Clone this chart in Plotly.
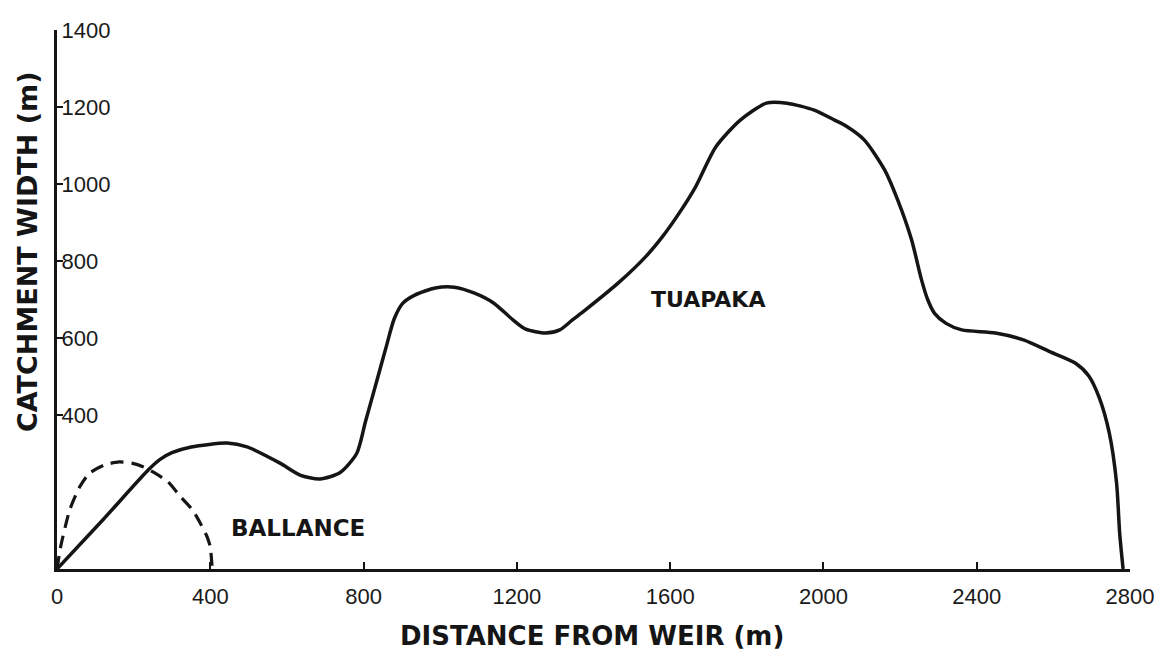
import plotly.graph_objects as go

# Tuapaka catchment width profile (distance from weir, m ; width, m)
tuapaka_x = [0, 120, 238, 268, 300, 350, 444, 496, 582, 634, 686, 738, 782, 805, 833, 859, 880,
             902, 935, 987, 1037, 1088, 1139, 1190, 1223, 1275, 1312, 1345, 1379, 1467, 1535,
             1579, 1624, 1666, 1719, 1783, 1851, 1905, 1976, 2029, 2060, 2107, 2160, 2194,
             2230, 2256, 2272, 2290, 2320, 2361, 2449, 2522, 2592, 2657, 2692, 2719, 2746, 2765,
             2773, 2782]
tuapaka_y = [0, 128, 257, 284, 302, 317, 327, 317, 275, 244, 234, 250, 300, 383, 483, 577, 650,
             690, 712, 730, 732, 717, 691, 647, 623, 613, 621, 647, 673, 745, 810,
             862, 925, 992, 1096, 1166, 1210, 1210, 1192, 1166, 1150, 1114, 1036, 958,
             855, 751, 700, 664, 638, 621, 613, 595, 564, 535, 502, 447, 353, 223,
             94, 0]

# Ballance catchment width profile
ballance_x = [0, 10, 33, 59, 85, 123, 162, 195, 226, 256, 290, 323, 354, 374, 392, 400, 405]
ballance_y = [0, 60, 153, 213, 249, 270, 278, 275, 265, 249, 226, 187, 153, 119, 83, 57, 0]

x_ticks = [0, 400, 800, 1200, 1600, 2000, 2400, 2800]
y_ticks = [400, 600, 800, 1000, 1200, 1400]

ink = "#151515"

fig = go.Figure()
fig.add_trace(go.Scatter(x=tuapaka_x, y=tuapaka_y, mode="lines",
                         line=dict(color=ink, width=3.5, shape="spline", smoothing=0.7),
                         showlegend=False, hoverinfo="skip"))
fig.add_trace(go.Scatter(x=ballance_x, y=ballance_y, mode="lines",
                         line=dict(color=ink, width=3.2, shape="spline", smoothing=0.6,
                                   dash="13px,8px"),
                         showlegend=False, hoverinfo="skip"))

fig.update_layout(
    width=1173, height=652,
    margin=dict(l=57, r=43, t=30, b=83),
    paper_bgcolor="white", plot_bgcolor="white",
    xaxis=dict(range=[0, 2800], showgrid=False, zeroline=False,
               showline=True, linecolor=ink, linewidth=2.5,
               ticks="inside", ticklen=7, tickwidth=1.5, tickcolor=ink,
               tickvals=x_ticks, ticktext=[str(v) for v in x_ticks],
               tickfont=dict(family="Liberation Sans", size=22, color="#1a1a1a"),
               ticklabelstandoff=6, ticklabeloverflow="allow"),
    yaxis=dict(range=[0, 1400], showgrid=False, zeroline=False,
               showline=True, linecolor=ink, linewidth=3,
               ticks="inside", ticklen=6, tickwidth=1.5, tickcolor=ink,
               tickvals=y_ticks, ticktext=[str(v) for v in y_ticks],
               ticklabelposition="inside", ticklabeloverflow="allow",
               tickfont=dict(family="Liberation Sans", size=22, color="#1a1a1a")),
    annotations=[
        dict(text="BALLANCE", x=629, y=106, xref="x", yref="y", showarrow=False,
             font=dict(family="DejaVu Sans", size=23, color=ink, weight="bold")),
        dict(text="TUAPAKA", x=1699, y=701, xref="x", yref="y", showarrow=False,
             font=dict(family="DejaVu Sans", size=22, color=ink, weight="bold")),
        dict(text="DISTANCE FROM WEIR (m)", x=0.4986, y=0, xref="paper", yref="paper",
             yshift=-67, yanchor="middle", showarrow=False,
             font=dict(family="DejaVu Sans", size=26, color=ink, weight="bold")),
        dict(text="CATCHMENT WIDTH (m)", x=0, y=0.588, xref="paper", yref="paper",
             xshift=-30, xanchor="center", yanchor="middle", textangle=-90,
             showarrow=False,
             font=dict(family="DejaVu Sans", size=27, color=ink, weight="bold")),
    ],
)

fig.write_html("out.html", config={"displayModeBar": False},
               post_script="document.body.style.margin='0';document.body.style.overflow='hidden';")
